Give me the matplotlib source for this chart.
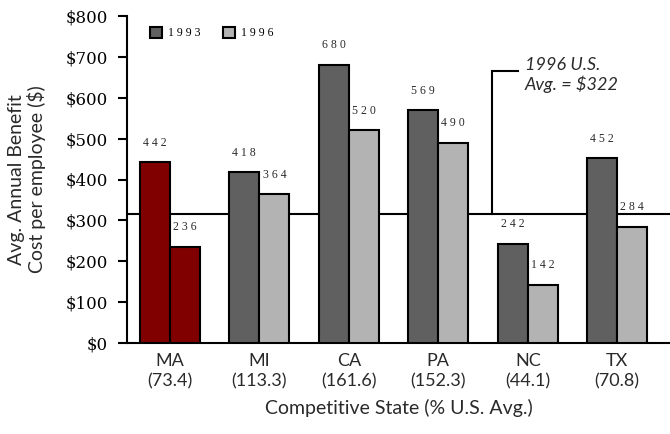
import matplotlib.pyplot as plt
import numpy as np
from matplotlib.patches import Patch

# data
states = ["MA", "MI", "CA", "PA", "NC", "TX"]
state_pct = ["73.4", "113.3", "161.6", "152.3", "44.1", "70.8"]
cost_1993 = [442, 418, 680, 569, 242, 452]
cost_1996 = [236, 364, 520, 490, 142, 284]
us_avg_1996 = 315  # drawn position of the "$322" line
y_ticks = [0, 100, 200, 300, 400, 500, 600, 700, 800]

dark = "#606060"
light = "#b3b3b3"
highlight = "#800000"
txt = "#2a2a2a"

fig = plt.figure(figsize=(6.7, 4.34), dpi=100)
ax = fig.add_axes([127 / 670, 1 - 343 / 434, 543 / 670, 327 / 434])

x = np.arange(len(states))
w = 0.336
c93 = [highlight if s == "MA" else dark for s in states]
c96 = [highlight if s == "MA" else light for s in states]
ax.bar(x - w / 2, cost_1993, w, color=c93, edgecolor="black", linewidth=1.5, zorder=3)
ax.bar(x + w / 2, cost_1996, w, color=c96, edgecolor="black", linewidth=1.5, zorder=3)

# value labels with spaced digits
for i in range(len(states)):
    ax.text(x[i] - w / 2, cost_1993[i] + 48, " ".join(str(cost_1993[i])),
            ha="center", va="center", fontsize=8.5, family="Liberation Serif", color=txt)
    ax.text(x[i] + w / 2, cost_1996[i] + 48, " ".join(str(cost_1996[i])),
            ha="center", va="center", fontsize=8.5, family="Liberation Serif", color=txt)

ax.set_xlim(-0.48, 5.59)
ax.set_ylim(0, 800)

# U.S. average line with the callout bracket
ax.axhline(us_avg_1996, color="black", linewidth=1.5, zorder=2)
bx = 3.60
ax.plot([bx, bx, bx + 0.29], [us_avg_1996, 665, 665], color="black", linewidth=1.5, zorder=2,
        solid_joinstyle="miter")
ax.text(bx + 0.37, 655, "1996 U.S.\nAvg. = $322", ha="left", va="center", style="italic",
        fontsize=13, family="Lato", linespacing=1.2, color=txt)

ax.spines["top"].set_visible(False)
ax.spines["right"].set_visible(False)
ax.spines["left"].set_linewidth(1.5)
ax.spines["bottom"].set_linewidth(1.5)

ax.set_yticks(y_ticks)
ax.set_yticklabels([f"${v}" for v in y_ticks], family="DejaVu Serif", fontsize=12)
ax.tick_params(axis="y", direction="out", length=6.5, width=1.5, pad=7)
ax.set_xticks(x)
ax.set_xticklabels([f"{s}\n({p})" for s, p in zip(states, state_pct)],
                   family="Lato", fontsize=13, color=txt, linespacing=1.35)
ax.tick_params(axis="x", length=0, pad=7)

ax.set_ylabel("Avg. Annual Benefit\nCost per employee ($)", family="Lato",
              fontsize=14, color=txt, labelpad=14, linespacing=1.15)
ax.set_xlabel("Competitive State (% U.S. Avg.)", family="Lato", fontsize=14,
              color=txt, labelpad=7)

handles = [Patch(facecolor=dark, edgecolor="black", linewidth=1.5, label="1 9 9 3"),
           Patch(facecolor=light, edgecolor="black", linewidth=1.5, label="1 9 9 6")]
ax.legend(handles=handles, loc="upper left", bbox_to_anchor=(0.043, 0.966), ncol=2,
          frameon=False, borderpad=0, borderaxespad=0, handlelength=1.0,
          handleheight=1.0, handletextpad=0.5, columnspacing=1.9,
          prop={"family": "Liberation Serif", "size": 8.5})

fig.savefig("out.png", dpi=100)
